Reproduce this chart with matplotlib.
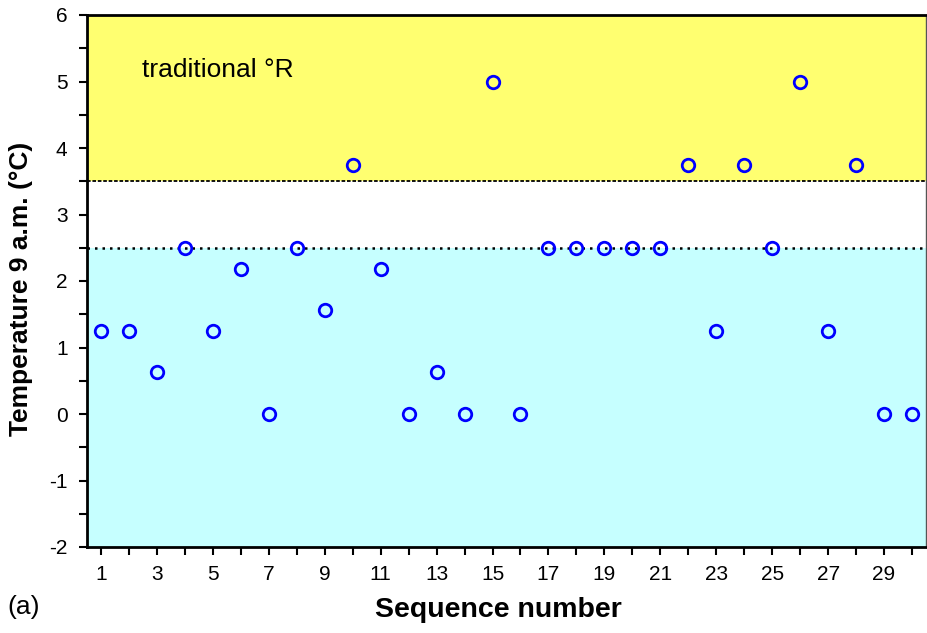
import matplotlib
matplotlib.use("Agg")
import matplotlib.pyplot as plt
import numpy as np

plt.rcParams['font.family'] = ['Liberation Sans', 'DejaVu Sans']
plt.rcParams['axes.unicode_minus'] = False

seq = list(range(1, 31))
temps = [1.25, 1.25, 0.625, 2.5, 1.25, 2.1875, 0.0, 2.5, 1.5625, 3.75,
         2.1875, 0.0, 0.625, 0.0, 5.0, 0.0, 2.5, 2.5, 2.5, 2.5,
         2.5, 3.75, 1.25, 3.75, 2.5, 5.0, 1.25, 3.75, 0.0, 0.0]
upper_limit = 3.5
lower_limit = 2.5
ymin, ymax = -2, 6
xmin, xmax = 0.5, 30.5

fig = plt.figure(figsize=(9.27, 6.33), dpi=100)
ax = fig.add_axes([87/927, 86/633, 839/927, 532/633])

ax.axhspan(upper_limit, ymax, color='#FFFF70', zorder=0, lw=0)
ax.axhspan(ymin, lower_limit, color='#C6FFFF', zorder=0, lw=0)
ax.axhline(upper_limit, color='black', lw=1.3, ls=(0, (2, 1)), zorder=1)
ax.axhline(lower_limit, color='black', lw=1.8, ls=(0, (1, 2)), zorder=1)

ax.plot(seq, temps, ls='none', marker='o', ms=9, mfc='none', mec='#0000FF', mew=2, zorder=3)

ax.set_xlim(xmin, xmax)
ax.set_ylim(ymin, ymax)
ax.set_xticks(range(1, 31))
ax.set_xticklabels([str(i) if i % 2 == 1 else '' for i in range(1, 31)])
ax.set_yticks(range(-2, 7))
ax.set_yticks(np.arange(-1.5, 6, 1.0), minor=True)
ax.tick_params(axis='both', which='both', direction='out', length=6, width=1.5, labelsize=15)
ax.tick_params(axis='x', pad=7)
ax.tick_params(axis='y', pad=8)

for s in ['left', 'bottom', 'top']:
    ax.spines[s].set_linewidth(2)
    ax.spines[s].set_color('black')
ax.spines['right'].set_linewidth(1)
ax.spines['right'].set_color('#555555')

ax.text(2.47, 5.17, 'traditional °R', fontsize=19, va='center', ha='left')

ax.set_xlabel('Sequence number', fontsize=20.5, fontweight='bold')
ax.xaxis.set_label_coords(0.490, -0.094)
ax.set_ylabel('Temperature 9 a.m. (°C)', fontsize=19, fontweight='bold')
ax.yaxis.set_label_coords(-0.064, 0.485)

fig.text(7/927, 1 - 607/633, '(a)', fontsize=19, va='center', ha='left')

fig.savefig('out.png', dpi=100)
